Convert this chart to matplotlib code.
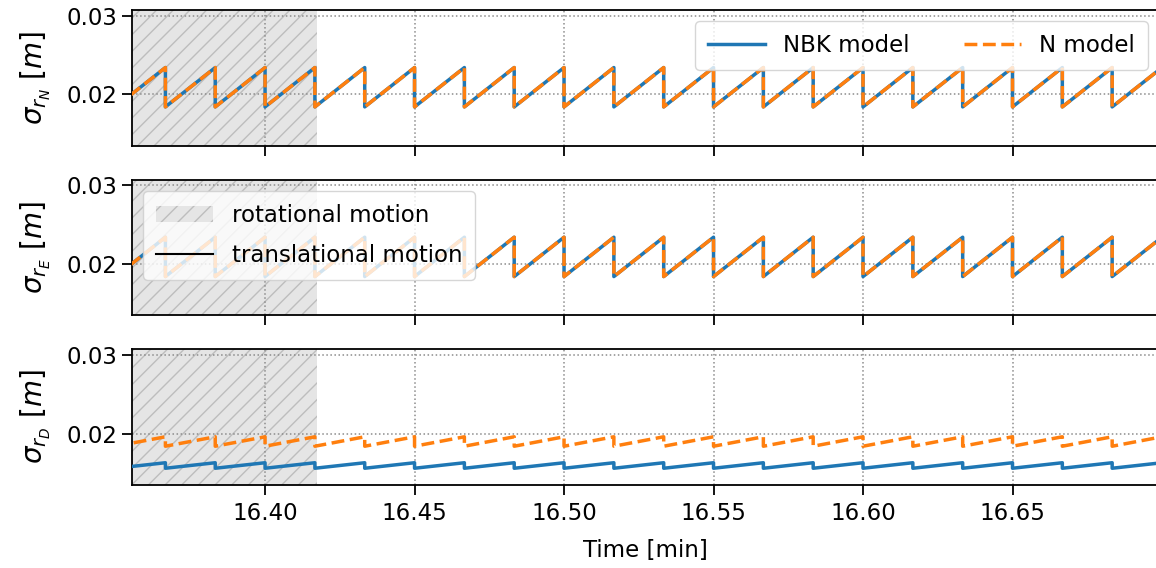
import matplotlib
matplotlib.use("Agg")
import matplotlib.pyplot as plt
from matplotlib.patches import Patch
from matplotlib.lines import Line2D

# Start time (s) of each sawtooth cycle; the covariance resets at every full second
tooth_start_s = [981, 982, 983, 984, 985, 986, 987, 988, 989, 990, 991,
                 992, 993, 994, 995, 996, 997, 998, 999, 1000, 1001]

# Position std-dev right after a reset (low) and right before the next one (high), m
sigN_nbk_low = [0.0184, 0.0184, 0.0184, 0.0184, 0.0184, 0.0184, 0.0184,
                0.0184, 0.0184, 0.0184, 0.0184, 0.0184, 0.0184, 0.0184,
                0.0184, 0.0184, 0.0184, 0.0184, 0.0184, 0.0184, 0.0184]
sigN_nbk_high = [0.0234, 0.0234, 0.0234, 0.0234, 0.0234, 0.0234, 0.0234,
                 0.0234, 0.0234, 0.0234, 0.0234, 0.0234, 0.0234, 0.0234,
                 0.0234, 0.0234, 0.0234, 0.0234, 0.0234, 0.0234, 0.0234]
sigN_n_low = sigN_nbk_low
sigN_n_high = sigN_nbk_high

sigE_nbk_low = sigN_nbk_low
sigE_nbk_high = sigN_nbk_high
sigE_n_low = sigN_nbk_low
sigE_n_high = sigN_nbk_high

sigD_nbk_low = [0.0156, 0.0156, 0.0156, 0.0156, 0.0156, 0.0156, 0.0156,
                0.0156, 0.0156, 0.0156, 0.0156, 0.0156, 0.0156, 0.0156,
                0.0156, 0.0156, 0.0156, 0.0156, 0.0156, 0.0156, 0.0156]
sigD_nbk_high = [0.0163, 0.0163, 0.0163, 0.0163, 0.0163, 0.0163, 0.0163,
                 0.0163, 0.0163, 0.0163, 0.0163, 0.0163, 0.0163, 0.0163,
                 0.0163, 0.0163, 0.0163, 0.0163, 0.0163, 0.0163, 0.0163]
sigD_n_low = [0.0184, 0.0184, 0.0184, 0.0184, 0.0184, 0.0184, 0.0184,
              0.0184, 0.0184, 0.0184, 0.0184, 0.0184, 0.0184, 0.0184,
              0.0184, 0.0184, 0.0184, 0.0184, 0.0184, 0.0184, 0.0184]
sigD_n_high = [0.0196, 0.0196, 0.0196, 0.0196, 0.0196, 0.0196, 0.0196,
               0.0196, 0.0196, 0.0196, 0.0196, 0.0196, 0.0196, 0.0196,
               0.0196, 0.0196, 0.0196, 0.0196, 0.0196, 0.0196, 0.0196]

# Time window and end of the rotational manoeuvre, min
t_window_min = [16.3555, 16.6990]
rotation_end_min = 16.4175

x_ticks = [16.40, 16.45, 16.50, 16.55, 16.60, 16.65]
y_ticks = [0.02, 0.03]
y_limits = [0.01346, 0.03072]

y_labels = [r'$\sigma_{r_N}$ [$m$]', r'$\sigma_{r_E}$ [$m$]', r'$\sigma_{r_D}$ [$m$]']

FS = 16.5
LW = 2.5
plt.rcParams.update({
    'font.size': FS,
    'axes.linewidth': 1.3,
    'xtick.major.width': 1.3,
    'ytick.major.width': 1.3,
    'xtick.major.size': 7,
    'ytick.major.size': 7,
    'xtick.major.pad': 5,
    'hatch.linewidth': 1.0,
})


def sawtooth(starts, low, high):
    """Join each cycle's (start, low) -> (start + 1 s, high) into one polyline in minutes."""
    t, v = [], []
    for s, lo, hi in zip(starts, low, high):
        t += [s / 60.0, (s + 1) / 60.0]
        v += [lo, hi]
    return t, v


fig, axes = plt.subplots(3, 1, figsize=(11.56, 5.68), dpi=100, sharex=True)
fig.subplots_adjust(left=0.1142, right=1.0026, bottom=0.146, top=0.9824, hspace=0.25)

series = [
    (sigN_nbk_low, sigN_nbk_high, sigN_n_low, sigN_n_high),
    (sigE_nbk_low, sigE_nbk_high, sigE_n_low, sigE_n_high),
    (sigD_nbk_low, sigD_nbk_high, sigD_n_low, sigD_n_high),
]

blue = '#1f77b4'
orange = '#ff7f0e'
shade_face = '#e5e5e5'
shade_hatch = '#bdbdbd'

for ax, (nl, nh, ml, mh), ylab in zip(axes, series, y_labels):
    ax.axvspan(t_window_min[0] - 0.01, rotation_end_min, facecolor=shade_face,
               edgecolor=shade_hatch, hatch='//', linewidth=0, zorder=1)
    tb, vb = sawtooth(tooth_start_s, nl, nh)
    tn, vn = sawtooth(tooth_start_s, ml, mh)
    ax.plot(tb, vb, color=blue, lw=LW, label='NBK model', zorder=3)
    ax.plot(tn, vn, color=orange, lw=LW, ls='--', label='N model', zorder=4)
    ax.set_xlim(t_window_min)
    ax.set_ylim(y_limits)
    ax.set_yticks(y_ticks)
    ax.set_yticklabels([f'{v:.2f}' for v in y_ticks])
    ax.grid(True, ls=':', color='0.55', lw=1.1)
    ax.set_ylabel(ylab, fontsize=20, labelpad=10)

axes[-1].set_xticks(x_ticks)
axes[-1].set_xticklabels([f'{v:.2f}' for v in x_ticks])
axes[-1].set_xlabel('Time [min]', labelpad=10)

axes[0].legend(loc='upper right', ncol=2, handlelength=2.5, columnspacing=2.35,
               borderpad=0.55, fontsize=FS)

motion_handles = [
    Patch(facecolor=shade_face, edgecolor=shade_hatch, hatch='//', linewidth=0,
          label='rotational motion'),
    Line2D([0], [0], color='black', lw=1.5, label='translational motion'),
]
axes[1].legend(handles=motion_handles, loc='upper left', handlelength=2.5,
               labelspacing=0.75, borderpad=0.55, fontsize=FS)

fig.savefig('out.png', dpi=100)
